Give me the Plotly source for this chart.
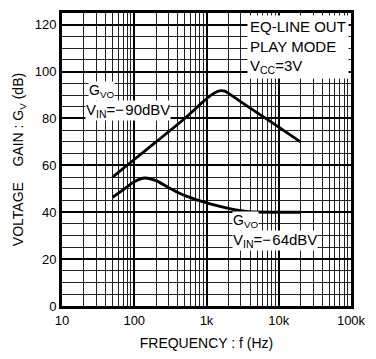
import plotly.graph_objects as go

# Data
freq_hi = [50, 100, 200, 500, 925, 1200, 1500, 1800, 2000, 3000, 5000, 10000, 20000]
gain_hi = [55, 62.5, 70, 80, 87.5, 90.3, 91.8, 91.7, 90.8, 87.1, 82.5, 76.3, 70]

freq_lo = [50, 70, 100, 140, 200, 300, 430, 700, 1000, 2000, 3000, 4000, 10000, 20000]
gain_lo = [46.3, 49.5, 53, 54.6, 53.5, 50.5, 48, 45.5, 44, 41.7, 40.7, 40.2, 40, 40]

x_tickvals = [10, 100, 1000, 10000, 100000]
x_ticktext = ["10", "100", "1k", "10k", "100k"]
y_tickvals = [0, 20, 40, 60, 80, 100, 120]
x_minor = [m * d for d in (10, 100, 1000, 10000) for m in range(2, 10)]

FONT = "Liberation Sans, Arial, sans-serif"

fig = go.Figure()
ann_font = dict(family=FONT, size=15, color="black")
lab_font = dict(family=FONT, size=14, color="black")
fig.add_annotation(x=1.364, y=91.8, xref="x", yref="y", text="G<sub>VO</sub>",
                   showarrow=False, xanchor="left", yanchor="middle", bgcolor="white",
                   borderpad=0, font=lab_font)
fig.add_annotation(x=1.323, y=83.2, xref="x", yref="y", text="V<sub>IN</sub>=\u2212\u200a90dBV",
                   showarrow=False, xanchor="left", yanchor="middle", bgcolor="white",
                   borderpad=0, font=ann_font)
fig.add_annotation(x=3.357, y=36.3, xref="x", yref="y", text="G<sub>VO</sub>",
                   showarrow=False, xanchor="left", yanchor="middle", bgcolor="white",
                   borderpad=0, font=lab_font)
fig.add_annotation(x=3.357, y=27.9, xref="x", yref="y", text="V<sub>IN</sub>=\u2212\u200a64dBV",
                   showarrow=False, xanchor="left", yanchor="middle", bgcolor="white",
                   borderpad=0, font=ann_font)
fig.add_annotation(x=0.993, y=0.993, xref="paper", yref="paper",
                   text="EQ-LINE OUT<br>PLAY MODE<br>V<sub>CC</sub>=3V",
                   showarrow=False, xanchor="right", yanchor="top", align="left",
                   bgcolor="white", borderpad=2, font=ann_font)

for fx, gy in ((freq_hi, gain_hi), (freq_lo, gain_lo)):
    fig.add_trace(go.Scatter(x=fx, y=gy, mode="lines",
                             line=dict(color="black", width=2.8, shape="spline", smoothing=0.6),
                             showlegend=False, hoverinfo="skip"))

fig.update_xaxes(type="log", range=[1, 5], tickmode="array", tickvals=x_tickvals,
                 ticktext=x_ticktext, showgrid=True, gridcolor="black", gridwidth=2.2,
                 minor=dict(tickvals=x_minor, showgrid=True, gridcolor="#222", gridwidth=1.4),
                 showline=True, linecolor="black", linewidth=3, mirror=True, ticks="",
                 zeroline=False, tickfont=dict(family=FONT, size=13, color="black"),
                 title=dict(text="FREQUENCY : f (Hz)", standoff=12,
                            font=dict(family=FONT, size=14, color="black")))
fig.update_yaxes(range=[0, 125], tickmode="array", tickvals=y_tickvals,
                 showgrid=True, gridcolor="black", gridwidth=1.8,
                 minor=dict(dtick=5, showgrid=True, gridcolor="#222", gridwidth=1.4),
                 showline=True, linecolor="black", linewidth=3, mirror=True, ticks="",
                 zeroline=False, tickfont=dict(family=FONT, size=13, color="black"),
                 title=dict(text="VOLTAGE\u00a0\u00a0\u00a0\u00a0GAIN : G<sub>V</sub> (dB)", standoff=8,
                            font=dict(family=FONT, size=14, color="black")))

fig.update_layout(width=376, height=359, margin=dict(l=62, r=17, t=10, b=49),
                  paper_bgcolor="white", plot_bgcolor="white")

fig.write_html("out.html")
